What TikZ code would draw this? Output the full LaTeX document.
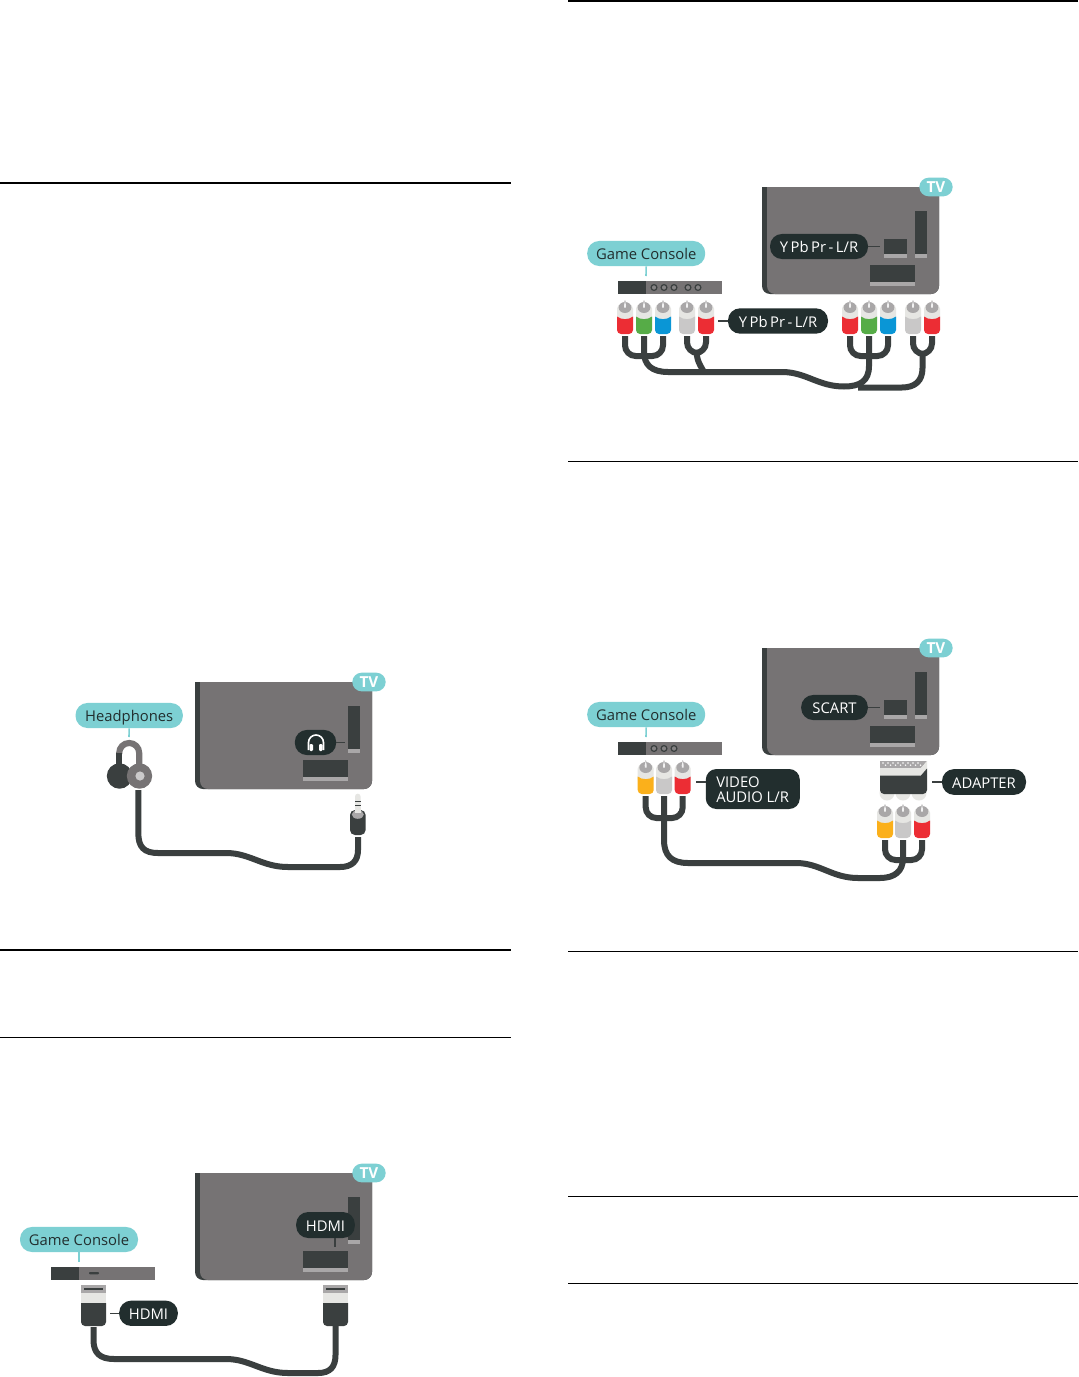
\documentclass[tikz,border=0pt]{standalone}
\usepackage{fontspec}
\setmainfont{Open Sans}
\definecolor{tvgray}{HTML}{767374}
\definecolor{darkc}{HTML}{3A3F3F}
\definecolor{pilld}{HTML}{222E2E}
\definecolor{tealc}{HTML}{7DD0D3}
\definecolor{lightp}{HTML}{A9A7A8}
\definecolor{collar}{HTML}{E6E6E3}
\definecolor{rcared}{HTML}{EC2D34}
\definecolor{rcagreen}{HTML}{56AC47}
\definecolor{rcablue}{HTML}{0A96D6}
\definecolor{rcagray}{HTML}{C9C8C8}
\definecolor{rcayel}{HTML}{FBB01B}
\tikzset{
  x=0.75pt,y=-0.75pt,
  labelfont/.style={font=\fontsize{11.1}{13}\selectfont,text height=9.1pt,text depth=0pt},
  tealpill/.style={fill=tealc,text=pilld,rounded corners=9pt,inner sep=0pt,labelfont},
  darkpill/.style={fill=pilld,text=white,rounded corners=9pt,inner sep=0pt,labelfont},
  tvpill/.style={fill=tealc,text=white,rounded corners=7pt,inner sep=0pt,minimum width=25pt,minimum height=14pt,font=\bfseries\fontsize{11.4}{13}\selectfont,text height=8.6pt,text depth=0pt},
  cable/.style={draw=darkc,line width=4.5pt},
  tick/.style={draw=darkc,line width=1.1pt},
  stem/.style={draw=tealc,line width=1.2pt},
  rule/.style={draw=black,line width=1.3pt},
  thinrule/.style={draw=black,line width=0.65pt},
}
% TV body: #1 x, #2 y, #3 name prefix
\newcommand{\tvset}[3]{
  \begin{scope}[shift={(#1,#2)}]
    \fill[darkc] (0,0) -- (177,0) [rounded corners=6] -- (177,107) -- (0,107) [sharp corners] -- cycle;
    \fill[tvgray] (5,0) -- (177,0) [rounded corners=6] -- (177,107) -- (5,107) [sharp corners] -- cycle;
    \fill[darkc] (153,24) rectangle (165,71);
    \fill[lightp] (153,67) rectangle (165,71);
    \fill[darkc] (108,78) rectangle (153,99);
    \fill[lightp] (108,95) rectangle (153,99);
    \node[tvpill] (#3tv) at (174,0) {TV};
  \end{scope}
}
\newcommand{\avport}[2]{
  \fill[darkc] (#1,#2) rectangle ++(23,19);
  \fill[lightp] (#1,#2+15) rectangle ++(23,4);
}
% console bar: #1 name, #2 x, #3 y
\newcommand{\consolebar}[3]{
  \fill[tvgray] (#2,#3) rectangle ++(104,13);
  \node[fill=darkc,inner sep=0pt,minimum width=21pt,minimum height=9.75pt,anchor=north west] (#1) at (#2,#3) {};
}
\newcommand{\jackdot}[2]{\draw[darkc,line width=0.9pt,fill=tvgray!70!lightp] (#1,#2) circle (2.9);}
\newcommand{\ypb}{Y\kern1.9pt Pb\kern1.9pt Pr\kern1.9pt -\kern1.9pt L/R}
% RCA plug: #1 name, #2 x, #3 y top, #4 colour
\newcommand{\rca}[4]{
  \begin{scope}[shift={(#2,#3)}]
    \fill[collar,rounded corners=3.5pt] (-8,2) rectangle (8,22);
    \fill[#4] (-8,14.5) .. controls (-4,18) and (4,18) .. (8,14.5) [rounded corners=3] -- (8,32) -- (-8,32) [sharp corners] -- cycle;
    \fill[lightp] (-1.8,2.5) -- (0,-2) -- (1.8,2.5) -- cycle;
    \fill[lightp] (0,5.5) ellipse (6.4 and 5.5);
    \fill[white!85!lightp] (-1,3.5) -- (0,-1.5) -- (1,3.5) -- (0.8,5.5) -- (-0.8,5.5) -- cycle;
    \coordinate (#1) at (0,34);
  \end{scope}
}
% HDMI plug
\newcommand{\hdmi}[3]{
  \begin{scope}[shift={(#2,#3)}]
    \fill[lightp] (0,0) rectangle (25,8);
    \fill[darkc] (3,2.5) rectangle (22,5.3);
    \fill[collar] (0,8) rectangle (25,18);
    \fill[darkc] (0,18) -- (25,18) [rounded corners=3] -- (25,41) -- (0,41) [sharp corners] -- cycle;
    \coordinate (#1) at (12.5,41);
  \end{scope}
}
\begin{document}
\begin{tikzpicture}
\useasboundingbox (0,0) rectangle (1078,1377);
\fill[white] (0,0) rectangle (1078,1377);
% rules
\coordinate (r1a) at (0,183); \coordinate (r1b) at (511,183);
\coordinate (r2a) at (0,950); \coordinate (r2b) at (511,950);
\coordinate (r3a) at (0,1037); \coordinate (r3b) at (511,1037);
\coordinate (r4a) at (568,0.7); \coordinate (r4b) at (1078,0.7);
\coordinate (r5a) at (568,461); \coordinate (r5b) at (1078,461);
\coordinate (r6a) at (568,951); \coordinate (r6b) at (1078,951);
\coordinate (r7a) at (568,1196); \coordinate (r7b) at (1078,1196);
\coordinate (r8a) at (568,1283); \coordinate (r8b) at (1078,1283);
\draw[rule] (r1a) -- (r1b); \draw[rule] (r2a) -- (r2b); \draw[thinrule] (r3a) -- (r3b);
\draw[rule] (r4a) -- (r4b); \draw[thinrule] (r5a) -- (r5b); \draw[thinrule] (r6a) -- (r6b);
\draw[thinrule] (r7a) -- (r7b); \draw[thinrule] (r8a) -- (r8b);

%%% Headphones
\tvset{195}{682}{a}
\node[tealpill,minimum width=80.5pt,minimum height=18.8pt] (hplabel) at (129.2,715.5) {Headphones};
\coordinate (hpstem) at (129,737);
\draw[stem] (hplabel.south) -- (hpstem);
\draw[tvgray,line width=4.6pt] (119.2,754) -- (119.2,753) arc (180:360:10) -- (139.2,766);
\draw[darkc,line width=4.6pt] (119.2,766) -- (119.2,753);
\fill[darkc] (119.5,776) circle (12.7);
\fill[tvgray] (139.5,776) circle (12.7);
\fill[lightp!60!white] (140,776) circle (4.6);
\coordinate (hpout) at (138.3,790);
\coordinate (jackout) at (358,837);
\fill[collar] (355,796.5) arc (180:360:2.8) -- (360.7,813) -- (355,813) -- cycle;
\fill[darkc] (355,801) rectangle (360.7,802.2);
\fill[darkc] (355,804.6) rectangle (360.7,805.8);
\fill[darkc,rounded corners=3.7pt] (350,810) rectangle (365.6,835);
\fill[lightp] (357.8,814.5) ellipse (6 and 4.3);
\fill[collar] (355,807) rectangle (360.7,813);
\draw[cable] (hpout) -- (138.3,833) .. controls (138.3,847) and (144,853) .. (158,853) -- (226,853) .. controls (250,853) and (262,867) .. (288,867) -- (340,867) .. controls (352,867) and (358,861) .. (358,850) -- (jackout);
\node[darkpill,minimum width=31pt,minimum height=18.8pt] (hpicon) at (315.5,742.5) {};
\coordinate (hptick) at (345,742.5);
\draw[tick] (hpicon.east) -- (hptick);
\draw[white,line width=1.2pt] (308.5,750) -- (308.5,742.5) arc (180:360:7.5) -- (323.5,750);
\fill[white,rounded corners=0.8pt] (309.5,744) rectangle (313,751);
\fill[white,rounded corners=0.8pt] (319,744) rectangle (322.5,751);

%%% HDMI
\tvset{195}{1173}{b}
\node[darkpill,minimum width=44pt,minimum height=19.5pt] (hdmitv) at (325.5,1225) {HDMI};
\coordinate (hdmitvtick) at (335,1247);
\draw[tick] (335,1238) -- (hdmitvtick);
\node[tealpill,minimum width=88.5pt,minimum height=18.8pt] (gc1) at (79,1239.5) {Game Console};
\consolebar{gcb1}{51}{1267}
\draw[stem] (gc1.south) -- (79,1262);
\fill[darkc,rounded corners=0.7pt] (89,1272) rectangle (99,1274.4);
\hdmi{hl}{81}{1285}
\hdmi{hr}{323}{1285}
\node[darkpill,minimum width=44pt,minimum height=19pt] (hdmilab) at (148.5,1313.3) {HDMI};
\coordinate (hdmilabt) at (110,1313.3);
\draw[tick] (hdmilab.west) -- (hdmilabt);
\draw[cable] (hl) ++(0,1) -- (93.5,1340) .. controls (93.5,1353) and (100,1359) .. (114,1359) -- (226,1359) .. controls (250,1359) and (262,1373) .. (288,1373) -- (318,1373) .. controls (330,1373) and (335.5,1367) .. (335.5,1355) -- (hr);

%%% YPbPr
\tvset{762}{187}{c}
\avport{884}{239}
\node[darkpill,minimum width=73.5pt,minimum height=18.8pt] (ytv) at (819,246.5) {\ypb};
\coordinate (ytvt) at (880,246.5);
\draw[tick] (ytv.east) -- (ytvt);
\node[tealpill,minimum width=88.5pt,minimum height=18.8pt] (gc2) at (646.2,253.5) {Game Console};
\consolebar{gcb2}{618}{281}
\draw[stem] (gc2.south) -- (646,276);
\foreach \xx in {654,664,674,688,698}{\jackdot{\xx}{287.5}}
\rca{p1}{625}{302}{rcared}
\rca{p2}{644}{302}{rcagreen}
\rca{p3}{663}{302}{rcablue}
\rca{p4}{687}{302}{rcagray}
\rca{p5}{706}{302}{rcared}
\rca{q1}{850}{302}{rcared}
\rca{q2}{869}{302}{rcagreen}
\rca{q3}{888}{302}{rcablue}
\rca{q4}{913}{302}{rcagray}
\rca{q5}{932}{302}{rcared}
\node[darkpill,minimum width=75pt,minimum height=19pt] (ylab) at (778,321) {\ypb};
\coordinate (ylabt) at (718,321);
\draw[tick] (ylab.west) -- (ylabt);
% left pair stub
\begin{scope}
\clip (670,330) rectangle (730,368);
\draw[cable] (696.5,350) .. controls (696.5,358) and (698,362) .. (704,372);
\end{scope}
\draw[cable,rounded corners=8] (p4) -- (687,353) -- (706,353) -- (p5);
\draw[cable,rounded corners=8] (p1) -- (625,356) -- (663,356) -- (p3);
\draw[cable,rounded corners=8] (q1) -- (850,356) -- (888,356) -- (q3);
\draw[cable,rounded corners=8] (q4) -- (913,354) -- (932,354) -- (q5);
\draw[cable] (922.5,352) -- (922.5,368) .. controls (922.5,381) and (915,387.5) .. (902,387.5) -- (858,387.5);
\draw[cable] (p2) -- (644,352) .. controls (644,365) and (652,372) .. (668,372) -- (782,372) .. controls (806,372) and (818,386.5) .. (844,386.5) .. controls (860,386.5) and (869,381) .. (869,366) -- (q2);

%%% SCART
\tvset{762}{648}{d}
\avport{884}{700}
\node[darkpill,minimum width=50pt,minimum height=18.8pt] (scart) at (834.5,707.5) {SCART};
\coordinate (scartt) at (880,707.5);
\draw[tick] (scart.east) -- (scartt);
\node[tealpill,minimum width=88.5pt,minimum height=18.8pt] (gc3) at (646.2,714.5) {Game Console};
\consolebar{gcb3}{618}{742}
\draw[stem] (gc3.south) -- (646,737);
\foreach \xx in {654,664,674}{\jackdot{\xx}{748.5}}
\rca{v1}{645.7}{762}{rcayel}
\rca{v2}{664}{762}{rcagray}
\rca{v3}{682.7}{762}{rcared}
\rca{w1}{885}{806}{rcayel}
\rca{w2}{903}{806}{rcagray}
\rca{w3}{922}{806}{rcared}
\draw[cable,rounded corners=8] (v1) -- (645.7,818) -- (682.7,818) -- (v3);
\draw[cable,rounded corners=8] (w1) -- (885,860) -- (922,860) -- (w3);
\draw[cable] (v2) -- (664,840) .. controls (664,856) and (672,863) .. (688,863) -- (796,863) .. controls (820,863) and (832,878) .. (858,878) -- (880,878) .. controls (895,878) and (903,871) .. (903,858) -- (w2);
\node[darkpill,rounded corners=8pt,minimum width=70.5pt,minimum height=30pt] (vid) at (752.8,789) {};
\node[anchor=west,text=white,inner sep=0pt,align=left,font=\fontsize{11.1}{11.4}\selectfont] (vidt) at (716,789.5) {VIDEO\\AUDIO L/R};
\coordinate (vidl) at (696,782);
\draw[tick] (705.8,782) -- (vidl);
% adapter
\foreach \xx in {887,903,919}{\fill[collar] (\xx,793) circle (7.5);}
\fill[lightp] (880,761) -- (927,761) -- (921,768) -- (880,768) -- cycle;
\foreach \xx in {883,888,...,918}{\fill[white] (\xx,763) circle (0.8); \fill[white] (\xx+2.5,765.2) circle (0.8);}
\fill[collar] (880,768) -- (921,768) -- (927,761) -- (927,769) -- (921,776) -- (880,776) -- cycle;
\fill[darkc] (880,775.5) -- (921,775.5) -- (927,768.5) [rounded corners=3] -- (927,794) -- (880,794) [sharp corners] -- cycle;
\node[darkpill,minimum width=63pt,minimum height=19.3pt] (adlab) at (984,782) {ADAPTER};
\coordinate (adt) at (932,782);
\draw[tick] (adlab.west) -- (adt);
\end{tikzpicture}
\end{document}
